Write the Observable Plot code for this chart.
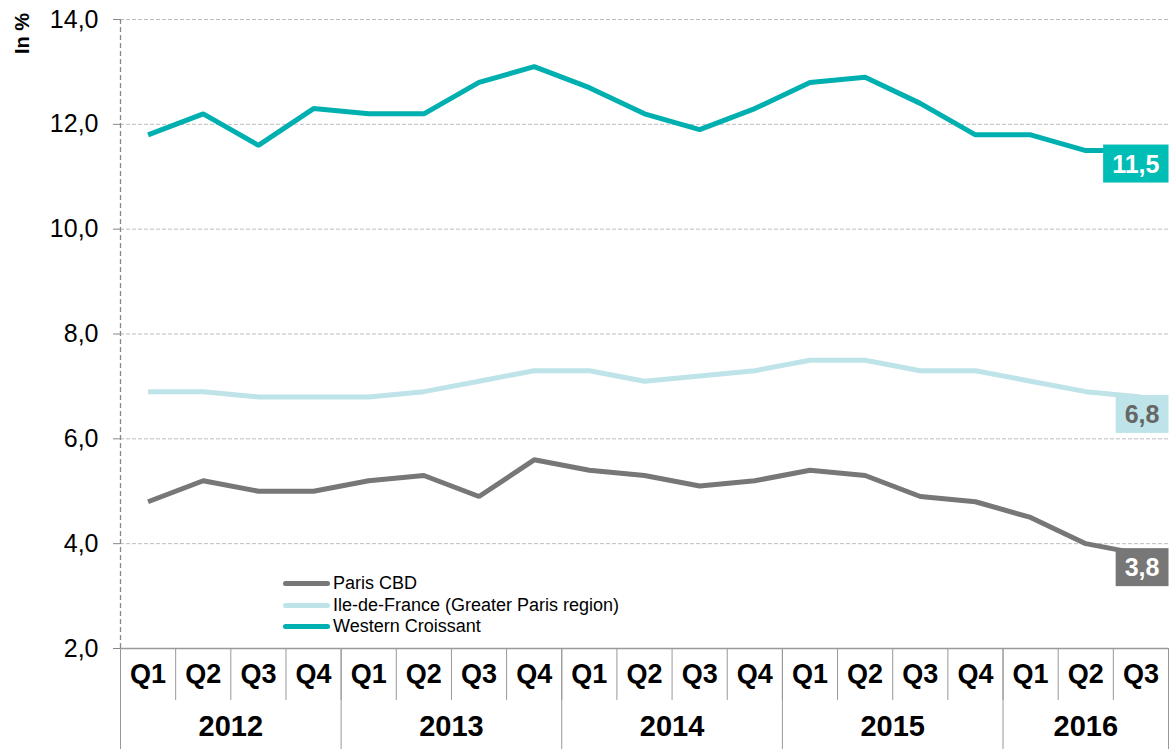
<!DOCTYPE html>
<html><head><meta charset="utf-8">
<script src="https://cdn.jsdelivr.net/npm/d3@7"></script>
<script src="https://cdn.jsdelivr.net/npm/@observablehq/plot@0.6"></script>
<style>
body{margin:0;background:#fff;font-family:"Liberation Sans",Arial,sans-serif;}
#wrap{position:relative;width:1175px;height:749px;overflow:hidden}
#legend{position:absolute;left:283px;top:573px;font-size:18px;line-height:21.5px;color:#000}
.row{display:flex;align-items:center;white-space:nowrap}
.sw{width:47px;height:5px;margin-right:3px;border-radius:2.5px}
</style></head><body><div id="wrap"><div id="legend"></div></div>
<script>
const years = ["2012","2013","2014","2015","2016"];
const quarters = ["Q1","Q2","Q3","Q4","Q1","Q2","Q3","Q4","Q1","Q2","Q3","Q4","Q1","Q2","Q3","Q4","Q1","Q2","Q3"];
const quarterYear = ["2012","2012","2012","2012","2013","2013","2013","2013","2014","2014","2014","2014","2015","2015","2015","2015","2016","2016","2016"];
const parisCBD = [4.8,5.2,5.0,5.0,5.2,5.3,4.9,5.6,5.4,5.3,5.1,5.2,5.4,5.3,4.9,4.8,4.5,4.0,3.8];
const ileDeFrance = [6.9,6.9,6.8,6.8,6.8,6.9,7.1,7.3,7.3,7.1,7.2,7.3,7.5,7.5,7.3,7.3,7.1,6.9,6.8];
const westernCroissant = [11.8,12.2,11.6,12.3,12.2,12.2,12.8,13.1,12.7,12.2,11.9,12.3,12.8,12.9,12.4,11.8,11.8,11.5,11.5];
const seriesNames = ["Paris CBD","Ile-de-France (Greater Paris region)","Western Croissant"];
const seriesValues = [parisCBD, ileDeFrance, westernCroissant];
const seriesColors = ["#777777","#BEE3E8","#00AFAF"];
const labelFills = ["#777777","#BEE3E8","#00BDB5"];
const labelTextColors = ["#ffffff","#666666","#ffffff"];
const labelDy = [14,18,14];
const yTicks = [2,4,6,8,10,12,14];

const fmt = v => v.toFixed(1).replace(".", ",");
const rows = [];
seriesNames.forEach((s, k) => seriesValues[k].forEach((v, i) => rows.push({i, v, s})));
const qIdx = quarters.map((q, i) => i);
const qBounds = quarters.map((q, i) => i - 0.5).concat([quarters.length - 0.5]);
const yearGroups = years.map(y => {
  const idx = qIdx.filter(i => quarterYear[i] === y);
  return {year: y, first: idx[0], last: idx[idx.length - 1], center: (idx[0] + idx[idx.length - 1]) / 2};
});
const yBounds = [-0.5].concat(yearGroups.map(g => g.last + 0.5));
const lastIdx = quarters.length - 1;

const font = "Liberation Sans, Arial, sans-serif";
const marks = [
  Plot.gridY(yTicks, {stroke: "#bdbdbd", strokeOpacity: 1, strokeDasharray: "4,2"}),
  Plot.axisY(yTicks, {tickSize: 7, tickPadding: 15, fontSize: 25, tickFormat: fmt, stroke: "#888", label: null}),
  Plot.ruleX([-0.5], {stroke: "#888", strokeDasharray: "5,3", strokeWidth: 1.3}),
  Plot.axisX(qBounds, {tickSize: 52, tickFormat: () => "", stroke: "#999", label: null}),
  Plot.axisX(yBounds, {tickSize: 101, tickFormat: () => "", stroke: "#999", label: null}),
  Plot.ruleY([2], {stroke: "#999", strokeWidth: 1.3}),
  Plot.text(qIdx, {x: i => i, text: i => quarters[i], frameAnchor: "bottom", dy: 34, fontSize: 27, fontWeight: "bold", fill: "#000"}),
  Plot.text(yearGroups, {x: "center", text: "year", frameAnchor: "bottom", dy: 87, fontSize: 29, fontWeight: "bold", fill: "#000"}),
  Plot.line(rows, {x: "i", y: "v", z: "s", stroke: d => seriesColors[seriesNames.indexOf(d.s)], strokeWidth: 5, strokeLinejoin: "miter", strokeLinecap: "butt"}),
  Plot.text(["In %"], {frameAnchor: "top-left", textAnchor: "middle", dx: -106, dy: 14, rotate: -90, fontSize: 20, fontWeight: "bold", fill: "#000"})
];
seriesNames.forEach((s, k) => {
  marks.push(Plot.text([seriesValues[k][lastIdx]], {
    x: () => lastIdx, y: d => d, text: fmt, textAnchor: "end", dx: 18.5, dy: labelDy[k],
    fontSize: 25, fontWeight: "bold", fill: labelTextColors[k], className: "endlabel-" + k
  }));
});

const chart = Plot.plot({
  width: 1175, height: 749,
  marginLeft: 120, marginRight: 7, marginTop: 19, marginBottom: 101,
  style: {fontFamily: font, background: "#fff", color: "#000", overflow: "visible"},
  x: {type: "linear", domain: [-0.5, quarters.length - 0.5], axis: null},
  y: {type: "linear", domain: [2, 14], axis: null},
  marks
});
document.getElementById("wrap").prepend(chart);

// boxes behind end labels
seriesNames.forEach((s, k) => {
  d3.select(chart).selectAll("g.endlabel-" + k + " text").each(function() {
    const b = this.getBBox();
    const t = this.getAttribute("transform");
    const r = document.createElementNS("http://www.w3.org/2000/svg", "rect");
    r.setAttribute("x", b.x - 9); r.setAttribute("y", b.y - 5);
    r.setAttribute("width", b.width + 18); r.setAttribute("height", b.height + 10);
    r.setAttribute("fill", labelFills[k]);
    if (t) r.setAttribute("transform", t);
    this.parentNode.insertBefore(r, this);
  });
});

const legend = d3.select("#legend");
seriesNames.forEach((s, k) => {
  const row = legend.append("div").attr("class", "row");
  row.append("div").attr("class", "sw").style("background", seriesColors[k]);
  row.append("span").text(s);
});
</script></body></html>
